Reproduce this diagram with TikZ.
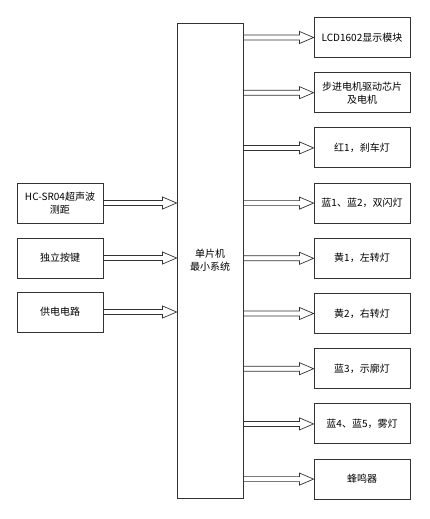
\documentclass[tikz,border=0pt]{standalone}
\usepackage{fontspec}
\setmainfont{Noto Sans CJK SC}
\usepackage{tikz}
\usetikzlibrary{calc}

\begin{document}
\begin{tikzpicture}[x=1pt,y=-1pt,
  font=\fontsize{10}{13}\selectfont,
  blk/.style={draw=black!80, line width=0.9pt, align=center, inner sep=1pt},
  outbox/.style={blk, minimum width=96pt, minimum height=40pt},
  inbox/.style={blk, minimum width=86pt, minimum height=40pt},
  hollowarrow/.style={draw=black!80, line width=0.7pt, to path={
    let \p1=(\tikztostart), \p2=(\tikztotarget) in
    (\x1,\y1+2.5pt) -- (\x2-14pt,\y1+2.5pt) -- (\x2-14pt,\y1+6pt) -- (\x2,\y1)
    -- (\x2-14pt,\y1-6pt) -- (\x2-14pt,\y1-2.5pt) -- (\x1,\y1-2.5pt) -- cycle}}]
\useasboundingbox (0,0) rectangle (429,519);

\node[blk, minimum width=66pt, minimum height=475pt] (mcu) at (210,260.5) {单片机\\最小系统};

% inputs
\node[inbox] (l1) at (60,203) {HC-SR04超声波\\测距};
\node[inbox] (l2) at (60,258) {独立按键};
\node[inbox] (l3) at (60,312) {供电电路};
\foreach \i in {1,2,3}
  \draw[hollowarrow] (l\i.east) to (mcu.west |- l\i);

% outputs
\foreach \txt [count=\i] in {LCD1602显示模块, {步进电机驱动芯片\\及电机}, 红1，刹车灯,
    蓝1、蓝2，双闪灯, 黄1，左转灯, 黄2，右转灯, 蓝3，示廓灯, 蓝4、蓝5，雾灯, 蜂鸣器}{
  \node[outbox] (r\i) at (362,{37.5+55.2*(\i-1)}) {\txt};
  \draw[hollowarrow] (mcu.east |- r\i) to (r\i.west);
}
\end{tikzpicture}
\end{document}
